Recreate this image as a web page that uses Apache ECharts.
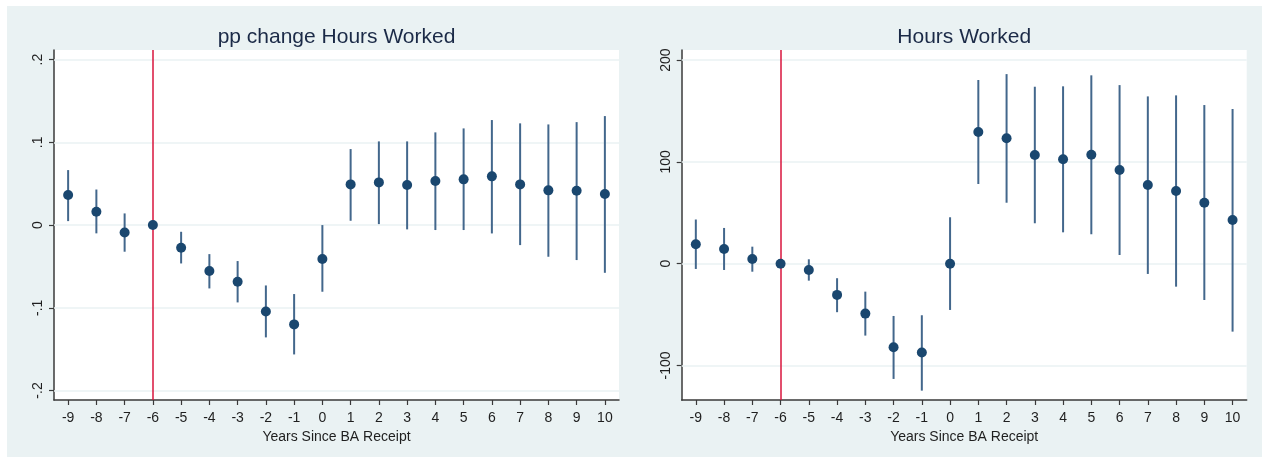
<!DOCTYPE html>
<html>
<head>
<meta charset="utf-8">
<script src="https://cdn.jsdelivr.net/npm/echarts@6/dist/echarts.min.js"></script>
<style>
  html, body { margin: 0; padding: 0; background: #ffffff; }
  #chart { position: absolute; left: 7px; top: 6px; width: 1255px; height: 451px; }
</style>
</head>
<body>
<div id="chart"></div>
<script>
// Event-study estimates by years since BA receipt (reference year -6)
const years = ['-9','-8','-7','-6','-5','-4','-3','-2','-1','0','1','2','3','4','5','6','7','8','9','10'];

// Panel 1: pp change in hours worked
const ppEst = [0.0363, 0.0161, -0.0089, 0, -0.0274, -0.0556, -0.0685, -0.1044, -0.1201, -0.0411,
               0.0492, 0.0516, 0.0484, 0.0532, 0.0553, 0.0589, 0.0492, 0.0420, 0.0415, 0.0375];
const ppLo  = [0.0048, -0.0100, -0.0322, null, -0.0464, -0.0766, -0.0935, -0.1358, -0.1564, -0.0806,
               0.0052, 0.0012, -0.0052, -0.0060, -0.0060, -0.0101, -0.0242, -0.0383, -0.0423, -0.0577];
const ppHi  = [0.0665, 0.0430, 0.0141, null, -0.0081, -0.0351, -0.0435, -0.0730, -0.0834, 0.0000,
               0.0919, 0.1012, 0.1012, 0.1121, 0.1169, 0.1270, 0.1230, 0.1217, 0.1245, 0.1318];
const ppTicks = [-0.2, -0.1, 0, 0.1, 0.2];
const ppTickLabels = ['-.2', '-.1', '0', '.1', '.2'];

// Panel 2: hours worked
const hrsEst = [19.0, 14.4, 4.6, 0, -6.2, -30.7, -49.1, -82.1, -87.4, 0.0,
                129.4, 123.2, 106.8, 102.6, 107.1, 92.0, 77.3, 71.4, 59.9, 42.9];
const hrsLo  = [-5.2, -6.2, -7.9, null, -16.7, -47.7, -70.7, -113.3, -124.8, -45.5,
                78.3, 59.9, 39.7, 30.8, 28.9, 8.5, -10.1, -22.6, -35.7, -66.8];
const hrsHi  = [43.4, 35.1, 16.7, null, 4.3, -14.3, -27.5, -51.4, -50.7, 45.6,
                180.5, 186.3, 173.9, 174.3, 185.1, 175.5, 164.4, 165.4, 155.9, 152.0];
const hrsTicks = [-100, 0, 100, 200];
const hrsTickLabels = ['-100', '0', '100', '200'];

const refYear = '-6';
const xTitle = 'Years Since BA Receipt';

const NAVY = '#1a476f';
const CI_COLOR = '#43678c';
const GRID_COLOR = '#eaf2f3';
const AXIS_COLOR = '#3a3a3a';
const TEXT_COLOR = '#1f1f1f';
const FONT = '"Liberation Sans", Arial, sans-serif';

function labelFor(ticks, labels) {
  return function (v) {
    for (let i = 0; i < ticks.length; i++) {
      if (Math.abs(ticks[i] - v) < 1e-9 * Math.max(1, Math.abs(v)) + 1e-9) return labels[i];
    }
    return '';
  };
}

function xAxisFor(gridIndex) {
  return {
    type: 'category', gridIndex: gridIndex, data: years, boundaryGap: true,
    name: xTitle, nameLocation: 'middle', nameGap: 27,
    nameTextStyle: { color: TEXT_COLOR, fontSize: 14, fontFamily: FONT },
    axisLine: { show: true, onZero: false, lineStyle: { color: AXIS_COLOR, width: 1.5 } },
    axisTick: { show: true, alignWithLabel: true, length: 5, lineStyle: { color: AXIS_COLOR, width: 1.2 } },
    axisLabel: { color: TEXT_COLOR, fontSize: 14, fontFamily: FONT, margin: 11, interval: 0 },
    splitLine: { show: false }
  };
}

function yAxisFor(gridIndex, min, max, ticks, labels) {
  return {
    type: 'value', gridIndex: gridIndex, min: min, max: max,
    axisLine: { show: true, onZero: false, lineStyle: { color: AXIS_COLOR, width: 1.5 } },
    axisTick: { show: true, length: 5, customValues: ticks, lineStyle: { color: AXIS_COLOR, width: 1.2 } },
    axisLabel: { color: TEXT_COLOR, fontSize: 14, fontFamily: FONT, rotate: 90, margin: 9,
                 customValues: ticks, formatter: labelFor(ticks, labels) },
    splitLine: { show: false }
  };
}

// Vertical confidence-interval whiskers
function ciSeries(axisIndex, lo, hi) {
  const data = [];
  for (let i = 0; i < years.length; i++) {
    if (lo[i] !== null && hi[i] !== null) data.push([i, lo[i], hi[i]]);
  }
  return {
    type: 'custom', xAxisIndex: axisIndex, yAxisIndex: axisIndex, z: 3, silent: true,
    data: data,
    renderItem: function (params, api) {
      const a = api.coord([api.value(0), api.value(1)]);
      const b = api.coord([api.value(0), api.value(2)]);
      return {
        type: 'line',
        shape: { x1: a[0], y1: a[1], x2: b[0], y2: b[1] },
        style: { stroke: CI_COLOR, lineWidth: 2 }
      };
    }
  };
}

// Horizontal gridlines plus the reference-year marker, kept beneath the estimates
function guideSeries(axisIndex, ticks) {
  return {
    type: 'line', xAxisIndex: axisIndex, yAxisIndex: axisIndex, z: 1, silent: true,
    data: [], showSymbol: false,
    markLine: {
      z: 1, silent: true, symbol: ['none', 'none'], label: { show: false },
      animation: false,
      data: ticks.map(function (t) {
        return { yAxis: t, lineStyle: { color: GRID_COLOR, width: 1.6, type: 'solid' } };
      }).concat([
        { xAxis: refYear, lineStyle: { color: '#d8143c', width: 1.5, type: 'solid' } }
      ])
    }
  };
}

function pointSeries(axisIndex, est) {
  return {
    type: 'scatter', xAxisIndex: axisIndex, yAxisIndex: axisIndex, z: 6, silent: true,
    symbol: 'circle', symbolSize: 10,
    itemStyle: { color: NAVY, opacity: 1 },
    data: est.map(function (v, i) { return [years[i], v]; })
  };
}

const chart = echarts.init(document.getElementById('chart'), null, { renderer: 'canvas' });
chart.setOption({
  backgroundColor: '#eaf2f3',
  animation: false,
  title: [
    { text: 'pp change Hours Worked', left: 329.5, top: 21, textAlign: 'center', padding: 0,
      textStyle: { color: '#1b2a47', fontSize: 21, fontWeight: 'normal', fontFamily: FONT } },
    { text: 'Hours Worked', left: 957.2, top: 21, textAlign: 'center', padding: 0,
      textStyle: { color: '#1b2a47', fontSize: 21, fontWeight: 'normal', fontFamily: FONT } }
  ],
  grid: [
    { left: 47, top: 44, width: 565, height: 350, show: true, backgroundColor: '#ffffff', borderWidth: 0 },
    { left: 674.7, top: 44, width: 565, height: 350, show: true, backgroundColor: '#ffffff', borderWidth: 0 }
  ],
  xAxis: [xAxisFor(0), xAxisFor(1)],
  yAxis: [
    yAxisFor(0, -0.2115, 0.2117, ppTicks, ppTickLabels),
    yAxisFor(1, -134, 210, hrsTicks, hrsTickLabels)
  ],
  series: [
    guideSeries(0, ppTicks),
    ciSeries(0, ppLo, ppHi),
    pointSeries(0, ppEst),
    guideSeries(1, hrsTicks),
    ciSeries(1, hrsLo, hrsHi),
    pointSeries(1, hrsEst)
  ]
});
</script>
</body>
</html>
